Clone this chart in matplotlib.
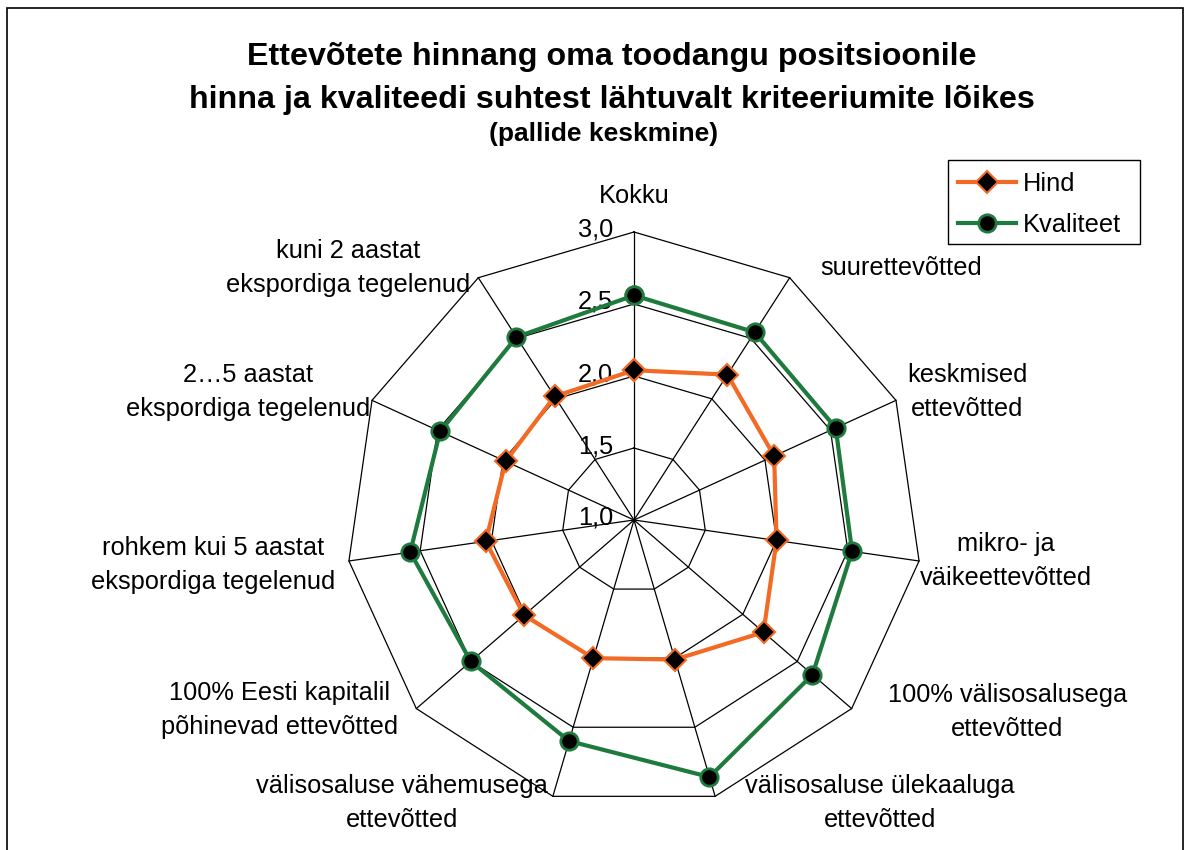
import numpy as np
import matplotlib.pyplot as plt
from matplotlib.lines import Line2D
from matplotlib.patches import Rectangle

plt.rcParams['font.family'] = ['Liberation Sans', 'DejaVu Sans']

categories = ["Kokku", "suurettevõtted", "keskmised\nettevõtted", "mikro- ja\nväikeettevõtted",
              "100% välisosalusega\nettevõtted", "välisosaluse ülekaaluga\nettevõtted",
              "välisosaluse vähemusega\nettevõtted", "100% Eesti kapitalil\npõhinevad ettevõtted",
              "rohkem kui 5 aastat\nekspordiga tegelenud", "2…5 aastat\nekspordiga tegelenud",
              "kuni 2 aastat\nekspordiga tegelenud"]
hind = [2.04, 2.20, 2.07, 2.00, 2.19, 2.01, 2.00, 2.01, 2.04, 1.98, 2.02]
kvaliteet = [2.56, 2.55, 2.54, 2.53, 2.64, 2.86, 2.60, 2.50, 2.57, 2.48, 2.51]
ticks = [1.0, 1.5, 2.0, 2.5, 3.0]
tick_labels = ["1,0", "1,5", "2,0", "2,5", "3,0"]

# label gap from outer vertex (px) and vertical shift (px, + = down)
label_gap = [0, 31, 11, 1, 36, 30, 5, 18, 14, 2, 8]
label_dy = [0, -10, -8, 0, 3, 7, 7, 1, 4, -8, -10]

W, H = 1190, 850
cx, cy = 634, 520
PX = 144.0  # pixels per unit value
rmin, rmax = ticks[0], ticks[-1]
FS = 18.3

fig = plt.figure(figsize=(W / 100, H / 100), dpi=100)
ax = fig.add_axes([0, 0, 1, 1])
ax.set_xlim(-cx / PX, (W - cx) / PX)
ax.set_ylim(-(H - cy) / PX, cy / PX)
ax.axis('off')

n = len(categories)
theta = 2 * np.pi * np.arange(n) / n
sx, sy = np.sin(theta), np.cos(theta)

def xy(vals):
    r = np.asarray(vals, dtype=float) - rmin
    x = r * sx
    y = r * sy
    return np.append(x, x[0]), np.append(y, y[0])

# grid polygons and spokes
for t in ticks[1:]:
    gx, gy = xy([t] * n)
    ax.plot(gx, gy, color='black', lw=0.9, zorder=1)
R = rmax - rmin
for k in range(n):
    ax.plot([0, R * sx[k]], [0, R * sy[k]], color='black', lw=0.9, zorder=1)

# tick labels
for t, lab in zip(ticks, tick_labels):
    ax.text(-21 / PX, t - rmin + 2 / PX, lab, ha='right', va='center', fontsize=FS)

orange = '#F26A24'
green = '#1F7A3D'
hx, hy = xy(hind)
ax.plot(hx, hy, color=orange, lw=3, marker='D', ms=11, mfc='black', mec=orange, mew=1.5, zorder=3)
kx, ky = xy(kvaliteet)
ax.plot(kx, ky, color=green, lw=3, marker='o', ms=12.5, mfc='black', mec=green, mew=2, zorder=3)

# category labels
for k, lab in enumerate(categories):
    vx, vy = R * sx[k], R * sy[k]
    if abs(sx[k]) < 0.1:
        ax.text(vx, vy + 36 / PX, lab, ha='center', va='center', fontsize=FS)
    else:
        ha = 'left' if sx[k] > 0 else 'right'
        sgn = 1 if sx[k] > 0 else -1
        ax.text(vx + sgn * label_gap[k] / PX, vy - label_dy[k] / PX, lab, ha=ha, va='center',
                multialignment='center', fontsize=FS, linespacing=1.52)

# titles
fig.text(612 / W, 1 - 78.5 / H, "Ettevõtete hinnang oma toodangu positsioonile\nhinna ja kvaliteedi suhtest lähtuvalt kriteeriumite lõikes",
         ha='center', va='center', fontsize=23.2, fontweight='bold', linespacing=1.6)
fig.text(604 / W, 1 - 134.5 / H, "(pallide keskmine)", ha='center', va='center', fontsize=19, fontweight='bold')

# legend
handles = [Line2D([], [], color=orange, lw=3, marker='D', ms=11, mfc='black', mec=orange, mew=1.5),
           Line2D([], [], color=green, lw=3, marker='o', ms=12.5, mfc='black', mec=green, mew=2)]
leg = fig.legend(handles, ["Hind", "Kvaliteet"], loc='upper left', bbox_to_anchor=(958 / W, 1 - 172 / H),
                 frameon=False, fontsize=FS, handlelength=2.3,
                 borderaxespad=0, borderpad=0, labelspacing=0.67, handletextpad=0.25)
fig.patches.append(Rectangle((948 / W, 1 - 244 / H), (1140 - 948) / W, 84 / H, transform=fig.transFigure,
                             fill=False, edgecolor='black', lw=1.0))

# chart border
fig.patches.append(Rectangle((7 / W, -0.05), (1183 - 7) / W, 1.05 - 8 / H, transform=fig.transFigure,
                             fill=False, edgecolor='black', lw=1.2))

fig.savefig('out.png', dpi=100)
